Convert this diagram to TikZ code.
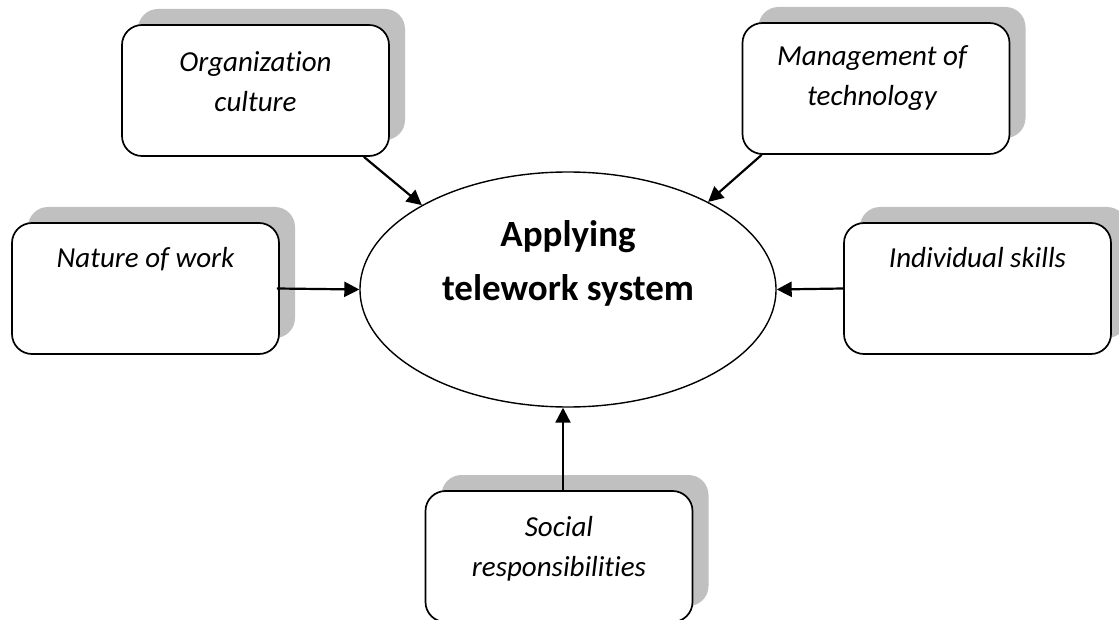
\documentclass[tikz,border=0pt]{standalone}
\usepackage{fontspec}
\setmainfont{Carlito}[Ligatures=NoCommon]
\usetikzlibrary{shapes.geometric,arrows.meta,positioning,shadows}
\definecolor{shadowgray}{RGB}{192,192,192}
\newcommand{\cardfont}{\fontsize{29}{40}\selectfont\itshape}
\newcommand{\titlefont}{\fontsize{37}{54}\selectfont\bfseries}

\begin{document}
\begin{tikzpicture}[
    x=1pt, y=-1pt,
    card/.style={rectangle, rounded corners=20pt, draw, line width=1.7pt, fill=white,
        minimum width=267pt, minimum height=131pt,
        drop shadow={shadow xshift=16pt, shadow yshift=16pt, fill=shadowgray, opacity=1}},
    cardtext/.style={inner sep=0pt, align=center, font=\cardfont, execute at begin node=\strut},
    arrow/.style={-{Triangle[length=15pt,width=15pt]}, line width=2.2pt}
]
\useasboundingbox (0,0) rectangle (1119,620);

% Central ellipse
\node[ellipse, draw, line width=1.4pt, minimum width=416pt, minimum height=235pt, inner sep=0pt] (app) at (568,289.5) {};
\node[inner sep=0pt, align=center, font=\titlefont, execute at begin node=\strut, below=49pt of app.north] (apptext) {Applying\\telework system};

% Factor boxes
\node[card] (org) at (255.5,90.5) {};
\node[cardtext, below=27pt of org.north] (orgtext) {Organization\\culture};

\node[card] (tech) at (876,88.5) {};
\node[cardtext, below=23pt of tech.north, xshift=-4pt] (techtext) {Management of\\technology};

\node[card] (nature) at (145.5,288.5) {};
\node[cardtext, below=17pt of nature.north] (naturetext) {Nature of work};

\node[card] (skills) at (977.5,288.5) {};
\node[cardtext, below=17pt of skills.north] (skillstext) {Individual skills};

\node[card] (social) at (559,556.5) {};
\node[cardtext, below=26pt of social.north] (socialtext) {Social\\responsibilities};

% Arrows
\draw[arrow] ([xshift=-26pt]org.south east) -- (app.150);
\draw[arrow] ([xshift=20pt]tech.south west) -- (app.32);
\draw[arrow] ([xshift=-3pt]nature.east) -- (app.west);
\draw[arrow] (skills.west) -- (app.east);
\draw[arrow] ([xshift=4pt]social.north) -- ([xshift=-5pt]app.south);

\end{tikzpicture}
\end{document}
